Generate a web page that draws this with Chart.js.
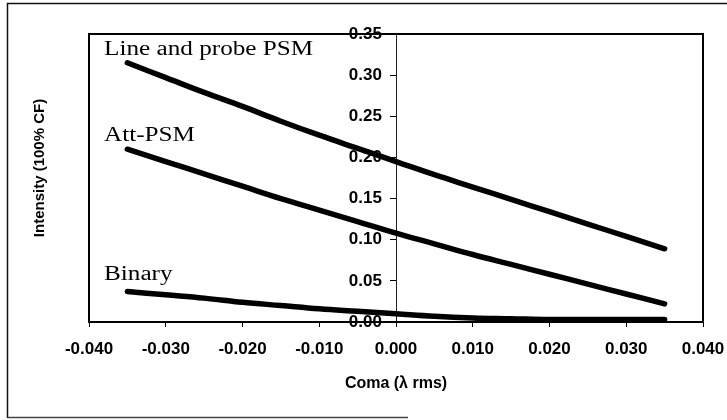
<!DOCTYPE html>
<html>
<head>
<meta charset="utf-8">
<script src="https://cdn.jsdelivr.net/npm/chart.js@4"></script>
<style>
  html, body { margin: 0; padding: 0; background: #fff; }
  #wrap { width: 727px; height: 420px; position: relative; }
</style>
</head>
<body>
<div id="wrap"><canvas id="comaChart"></canvas></div>
<script>
// coma values (lambda rms) and the intensity for each mask type
const comaValues = [-0.035, -0.030, -0.025, -0.020, -0.015, -0.010, -0.005, 0.000,
                    0.005, 0.010, 0.015, 0.020, 0.025, 0.030, 0.035];
const psmValues = [0.315, 0.297, 0.279, 0.262, 0.244, 0.227, 0.211, 0.195,
                   0.179, 0.164, 0.149, 0.134, 0.119, 0.104, 0.089];
const attValues = [0.210, 0.195, 0.180, 0.165, 0.150, 0.136, 0.122, 0.108,
                   0.095, 0.082, 0.070, 0.058, 0.046, 0.034, 0.022];
const binaryValues = [0.037, 0.033, 0.029, 0.024, 0.020, 0.016, 0.013, 0.010,
                      0.007, 0.005, 0.004, 0.003, 0.003, 0.003, 0.003];

const seriesNames = ['Line and probe PSM', 'Att-PSM', 'Binary'];
const xTitle = 'Coma (\u03bb rms)';
const yTitle = 'Intensity (100% CF)';

function toPoints(values) {
  return values.map((v, i) => ({ x: comaValues[i], y: v }));
}

function lineSet(label, values) {
  return {
    label: label,
    data: toPoints(values),
    borderColor: '#000',
    borderWidth: 5.5,
    borderCapStyle: 'round',
    pointRadius: 0,
    tension: 0.4,
    fill: false
  };
}

// frame, plot box, y title and the series names
const decorations = {
  id: 'decorations',
  beforeDraw(chart) {
    const ctx = chart.ctx;
    ctx.save();
    ctx.strokeStyle = '#111';
    ctx.lineWidth = 1.5;
    ctx.beginPath();
    ctx.moveTo(7.5, 418);
    ctx.lineTo(7.5, 3.5);
    ctx.lineTo(727, 3.5);
    ctx.stroke();
    ctx.strokeStyle = '#444';
    ctx.beginPath();
    ctx.moveTo(7.5, 417.5);
    ctx.lineTo(408, 417.5);
    ctx.stroke();
    ctx.restore();
  },
  afterDraw(chart) {
    const ctx = chart.ctx;
    const a = chart.chartArea;
    ctx.save();
    ctx.strokeStyle = '#000';
    ctx.lineWidth = 2;
    ctx.strokeRect(a.left, a.top, a.right - a.left, a.bottom - a.top);

    ctx.fillStyle = '#000';
    ctx.font = 'bold 15px "Liberation Sans", Arial, sans-serif';
    ctx.textAlign = 'center';
    ctx.textBaseline = 'middle';
    ctx.translate(40, 168);
    ctx.rotate(-Math.PI / 2);
    ctx.fillText(yTitle, 0, 0);
    ctx.restore();

    const spots = [[104, 55], [104, 141], [104, 280]];
    ctx.save();
    ctx.fillStyle = '#000';
    ctx.font = '20px "Liberation Serif", "Times New Roman", serif';
    ctx.textBaseline = 'alphabetic';
    seriesNames.forEach((name, i) => {
      ctx.save();
      ctx.translate(spots[i][0], spots[i][1]);
      ctx.scale(1.26, 1);
      ctx.fillText(name, 0, 0);
      ctx.restore();
    });
    ctx.restore();
  }
};

const tickFont = { family: '"Liberation Sans", Arial, sans-serif', size: 17, weight: 'bold' };

new Chart(document.getElementById('comaChart'), {
  type: 'line',
  data: {
    datasets: [
      lineSet(seriesNames[0], psmValues),
      lineSet(seriesNames[1], attValues),
      lineSet(seriesNames[2], binaryValues)
    ]
  },
  options: {
    responsive: true,
    maintainAspectRatio: false,
    animation: false,
    layout: { padding: { left: 89, top: 34, right: 24, bottom: 0 } },
    plugins: {
      legend: { display: false },
      tooltip: { enabled: false }
    },
    scales: {
      x: {
        type: 'linear',
        min: -0.04,
        max: 0.04,
        // fixed height; the end labels fit inside the layout padding
        afterFit(scale) {
          scale.height = 98;
          scale.paddingLeft = 0;
          scale.paddingRight = 0;
        },
        ticks: {
          stepSize: 0.01,
          color: '#000',
          font: tickFont,
          padding: 12,
          maxRotation: 0,
          callback: (v) => v.toFixed(3)
        },
        grid: { drawOnChartArea: false, drawTicks: true, tickLength: 5, color: '#000' },
        border: { display: true, color: '#000', width: 2 },
        title: {
          display: true,
          text: xTitle,
          color: '#000',
          font: { family: '"Liberation Sans", Arial, sans-serif', size: 16, weight: 'bold' },
          padding: { top: 0, bottom: 27 }
        }
      },
      y: {
        type: 'linear',
        position: { x: 0 },
        min: 0,
        max: 0.35,
        // the axis sits inside the plot, so it should not take any room
        afterFit(scale) {
          scale.width = 0;
          scale.paddingLeft = 0;
          scale.paddingRight = 0;
        },
        ticks: {
          stepSize: 0.05,
          color: '#000',
          font: tickFont,
          // labels sit right-aligned on the axis line, so pad them with spaces
          callback: (v) => v.toFixed(2) + '   '
        },
        grid: { drawOnChartArea: false, drawTicks: true, tickLength: 6, color: '#000' },
        border: { display: true, color: '#222', width: 1 }
      }
    }
  },
  plugins: [decorations]
});
</script>
</body>
</html>
